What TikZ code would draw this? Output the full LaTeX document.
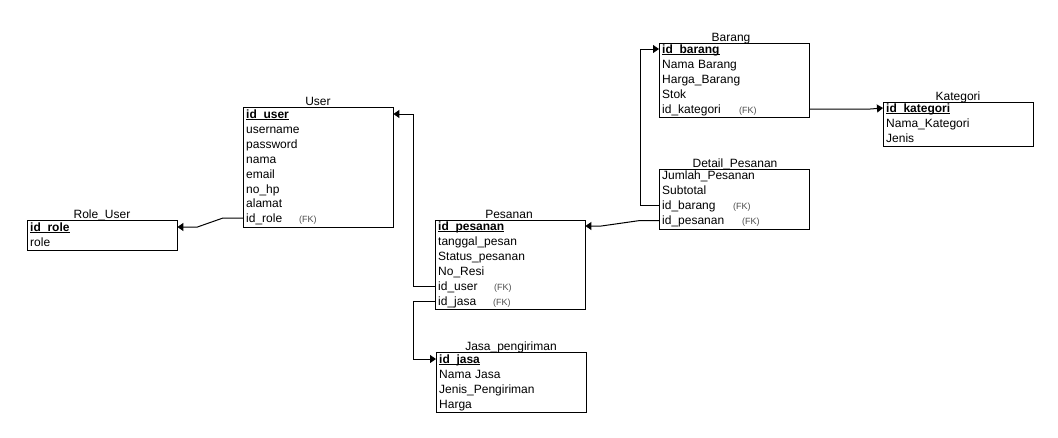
\documentclass[tikz,border=0pt]{standalone}
\usepackage{fontspec}
\setmainfont{Liberation Sans}
\usetikzlibrary{arrows.meta}
\definecolor{fkgray}{gray}{0.3}
\newcommand\pkey[1]{\underline{\smash{\textbf{#1}}}}
\newcommand\fkrow[2]{\makebox[#1][l]{#2}{\fontsize{9}{10}\selectfont\color{fkgray}(FK)}}
\tikzset{
  tbox/.style={draw, line width=1pt, minimum width=150pt, anchor=north west, inner sep=0pt},
  trow/.style={anchor=west, text width=144pt, inner xsep=3pt, inner ysep=0pt, minimum height=15pt,
    text height=10pt, text depth=2pt, align=left, font=\fontsize{12}{14}\selectfont},
  ttl/.style={anchor=base, inner sep=0pt, font=\fontsize{12}{14}\selectfont},
  fkarrow/.style={draw, line width=1pt, -{Triangle[length=6pt,width=8pt]}}
}
\begin{document}
\begin{tikzpicture}[x=1pt,y=-1pt]
\useasboundingbox (0,0) rectangle (1058,437);
% User
\node[tbox, minimum height=120pt] (user) at (243,107) {};
\node[ttl] (usert) at (318,105) {User};
\node[trow] (u1) at (243,114) {\pkey{id\_user}};
\node[trow] (u2) at (243,129) {username};
\node[trow] (u3) at (243,144) {password};
\node[trow] (u4) at (243,159) {nama};
\node[trow] (u5) at (243,174) {email};
\node[trow] (u6) at (243,189) {no\_hp};
\node[trow] (u7) at (243,203) {alamat};
\node[trow] (u8) at (243,218) {\fkrow{53pt}{id\_role}};
% Role_User
\node[tbox, minimum height=30pt] (role) at (27,220) {};
\node[ttl] (rolet) at (102,218) {Role\_User};
\node[trow] (r1) at (27,227) {\pkey{id\_role}};
\node[trow] (r2) at (27,242) {role};
% Pesanan
\node[tbox, minimum height=89pt] (pes) at (435,220) {};
\node[ttl] (pest) at (509,218) {Pesanan};
\node[trow] (p1) at (435,226) {\pkey{id\_pesanan}};
\node[trow] (p2) at (435,241) {tanggal\_pesan};
\node[trow] (p3) at (435,256) {Status\_pesanan};
\node[trow] (p4) at (435,271) {No\_Resi};
\node[trow] (p5) at (435,286) {\fkrow{56pt}{id\_user}};
\node[trow] (p6) at (435,301) {\fkrow{55pt}{id\_jasa}};
% Jasa_pengiriman
\node[tbox, minimum height=60pt] (jasa) at (436,352) {};
\node[ttl] (jasat) at (511,350) {Jasa\_pengiriman};
\node[trow] (j1) at (436,359) {\pkey{id\_jasa}};
\node[trow] (j2) at (436,374) {Nama Jasa};
\node[trow] (j3) at (436,389) {Jenis\_Pengiriman};
\node[trow] (j4) at (436,404) {Harga};
% Barang
\node[tbox, minimum height=74pt] (bar) at (659,43) {};
\node[ttl] (bart) at (731,41) {Barang};
\node[trow] (b1) at (659,49) {\pkey{id\_barang}};
\node[trow] (b2) at (659,64) {Nama Barang};
\node[trow] (b3) at (659,79) {Harga\_Barang};
\node[trow] (b4) at (659,94) {Stok};
\node[trow] (b5) at (659,109) {\fkrow{77pt}{id\_kategori}};
% Kategori
\node[tbox, minimum height=44pt] (kat) at (883,102) {};
\node[ttl] (katt) at (958,100) {Kategori};
\node[trow] (k1) at (883,108) {\pkey{id\_kategori}};
\node[trow] (k2) at (883,123) {Nama\_Kategori};
\node[trow] (k3) at (883,138) {Jenis};
% Detail_Pesanan
\node[tbox, minimum height=60pt] (det) at (659,169) {};
\node[ttl] (dett) at (735,167) {Detail\_Pesanan};
\node[trow] (d1) at (659,175) {Jumlah\_Pesanan};
\node[trow] (d2) at (659,190) {Subtotal};
\node[trow] (d3) at (659,205) {\fkrow{71pt}{id\_barang}};
\node[trow] (d4) at (659,220.5) {\fkrow{80pt}{id\_pesanan}};
% connectors
\draw[fkarrow] (u8.west) -- ++(-20,0) -- ([xshift=20pt]r1.east) -- (r1.east);
\draw[fkarrow] (p5.west) -- ++(-22,0) |- (u1.east);
\draw[fkarrow] (p6.west) -- ++(-22,0) |- (j1.west);
\draw[fkarrow] (d3.west) -- ++(-19,0) |- (b1.west);
\draw[fkarrow] (d4.west) -- ++(-19,0) -- ([xshift=16pt]p1.east) -- (p1.east);
\draw[fkarrow] (b5.east) -- ++(61,0) -- (k1.west);
\end{tikzpicture}
\end{document}
